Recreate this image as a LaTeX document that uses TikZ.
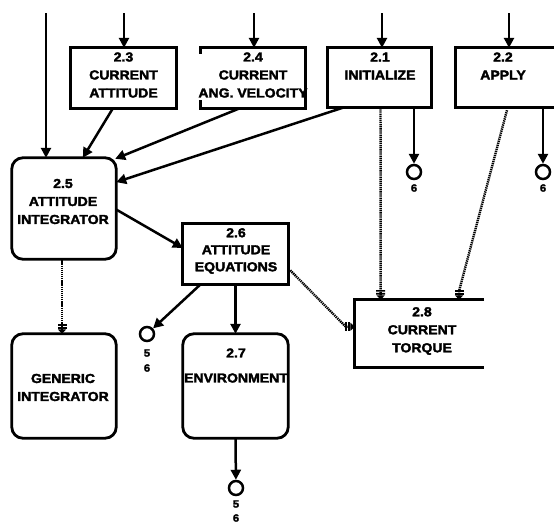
\documentclass[tikz,border=0pt]{standalone}
\usepackage{fontspec}
\newfontfamily\dfd{Liberation Sans}[FakeStretch=1.08, BoldFeatures={FakeBold=2.5}]
\usetikzlibrary{arrows.meta,calc}
\begin{document}
\begin{tikzpicture}[x=1pt,y=-1pt,
  frame/.style={inner sep=0pt},
  edge/.style={line width=2.8pt},
  redge/.style={edge, rounded corners=11pt},
  txt/.style={font=\dfd\bfseries\fontsize{13}{18}\selectfont, inner sep=0pt, align=center},
  small/.style={font=\dfd\bfseries\fontsize{10.5}{12}\selectfont, inner sep=0pt},
  flow/.style={line width=2.5pt, -{Triangle[width=10pt,length=10pt]}},
  ctrl/.style={line width=2.4pt, dash pattern=on 1.3pt off 0.8pt,
    -{Bar[width=9pt,line width=1.6pt,sep=1.2pt] Bar[width=9pt,line width=1.6pt,sep=0.8pt] Triangle[width=8pt,length=4.5pt]}},
  conn/.style={draw, circle, line width=2.5pt, minimum size=14pt, inner sep=0pt}
]
\useasboundingbox (0,0) rectangle (554,525);

% boxes
\node[frame, minimum width=105pt, minimum height=60pt] (b23) at (123.5,78) {};
\node[frame, minimum width=104pt, minimum height=60pt] (b24) at (253,78) {};
\node[frame, minimum width=103pt, minimum height=59pt] (b21) at (379.5,77.5) {};
\node[frame, minimum width=98pt, minimum height=59pt] (b22) at (505,77.5) {};
\node[frame, minimum width=104pt, minimum height=101pt] (b25) at (64,208.5) {};
\node[frame, minimum width=105pt, minimum height=60pt] (b26) at (235.5,254) {};
\node[frame, minimum width=129pt, minimum height=67pt] (b28) at (419.5,333.5) {};
\node[frame, minimum width=104pt, minimum height=104pt] (bgen) at (64,386) {};
\node[frame, minimum width=105pt, minimum height=104pt] (b27) at (235.5,386) {};

\draw[edge] (b23.north west) rectangle (b23.south east);
\draw[edge] ($(b24.north west)+(0,6)$) -- (b24.north west) -- (b24.north east) -- (b24.south east) -- (b24.south west) -- ++(0,-8);
\draw[edge] (b21.north west) rectangle (b21.south east);
\draw[edge] (b22.north east) -- (b22.north west) -- (b22.south west) -- (b22.south east);
\draw[edge] (b26.north west) rectangle (b26.south east);
\draw[edge] (b28.north east) -- (b28.north west) -- (b28.south west) -- (b28.south east);
\draw[redge] (b25.north west) rectangle (b25.south east);
\draw[redge] (bgen.north west) rectangle (bgen.south east);
\draw[redge] (b27.north west) rectangle (b27.south east);

% texts
\node[txt] (t23) at (123.5,75) {2.3\\CURRENT\\ATTITUDE};
\node[txt] (t24) at (253,75) {2.4\\CURRENT\\ANG. VELOCITY};
\node[txt] (t21) at (380,66) {2.1\\INITIALIZE};
\node[txt] (t22) at (503,66) {2.2\\APPLY};
\node[txt] (t25) at (63,201.5) {2.5\\ATTITUDE\\INTEGRATOR};
\node[txt, font=\dfd\bfseries\fontsize{13}{17}\selectfont] (t26) at (236,251) {2.6\\ATTITUDE\\EQUATIONS};
\node[txt] (t28) at (422,331) {2.8\\CURRENT\\TORQUE};
\node[txt] (tgen) at (63,387.5) {GENERIC\\INTEGRATOR};
\node[txt, font=\dfd\bfseries\fontsize{13}{25}\selectfont] (t27) at (236,365.5) {2.7\\ENVIRONMENT};

% connectors (off-page)
\node[conn] (c1) at (414,172) {};
\node[conn] (c2) at (543,172) {};
\node[conn] (c3) at (147,334) {};
\node[conn] (c4) at (236,488) {};
\node[small] (l1) at (414,188) {6};
\node[small] (l2) at (543,188) {6};
\node[small] (l3a) at (147,353) {5};
\node[small] (l3b) at (147,368) {6};
\node[small] (l4a) at (236,504) {5};
\node[small] (l4b) at (236,518) {6};

% sources
\coordinate (s0) at (46,13);
\coordinate (s1) at (124,13);
\coordinate (s2) at (254,13);
\coordinate (s3) at (382,13);
\coordinate (s4) at (509,13);

\draw[flow] (s0) -- (s0 |- b25.north);
\draw[flow] (s1) -- (s1 |- b23.north);
\draw[flow] (s2) -- (s2 |- b24.north);
\draw[flow] (s3) -- (s3 |- b21.north);
\draw[flow] (s4) -- (s4 |- b22.north);

% data flows
\draw[flow] ($(b23.south west)!0.4!(b23.south east)$) -- ($(b25.north west)!0.68!(b25.north east)$);
\draw[flow] ($(b24.south west)!0.375!(b24.south east)$) -- ($(b25.north east)+(-1,1)$);
\draw[flow] ($(b21.south west)!0.16!(b21.south east)$) -- ($(b25.north east)!0.24!(b25.south east)$);
\draw[flow] ($(b25.north east)!0.51!(b25.south east)$) -- ($(b26.north west)!0.4!(b26.south west)$);
\draw[flow] ($(b26.south west)!0.17!(b26.south east)$) -- (c3);
\draw[flow] (b26.south) -- (b27.north);
\draw[flow] (b27.south) -- (c4);
\draw[flow] (c1 |- b21.south) -- (c1);
\draw[flow] (c2 |- b22.south) -- (c2);

% control flows
\draw[ctrl] ($(b25.south)+(-2,0)$) -- ($(bgen.north)+(-2,0)$);
\coordinate (e1) at ($(b28.north west)!0.2!(b28.north east)$);
\draw[ctrl] ($(b21.south west)!0.51!(b21.south east)$) -- (e1);
\coordinate (e2) at ($(b28.north west)!0.806!(b28.north east)$);
\draw[ctrl] ($(b22.south west)!0.52!(b22.south east)+(0,3)$) -- ($(e2)+(0,-9)$) -- (e2);
\coordinate (e3) at ($(b28.north west)!0.4!(b28.south west)$);
\draw[ctrl] ($(b26.north east)!0.77!(b26.south east)+(2,0)$) -- ($(e3)+(-9,0)$) -- (e3);
\end{tikzpicture}
\end{document}
